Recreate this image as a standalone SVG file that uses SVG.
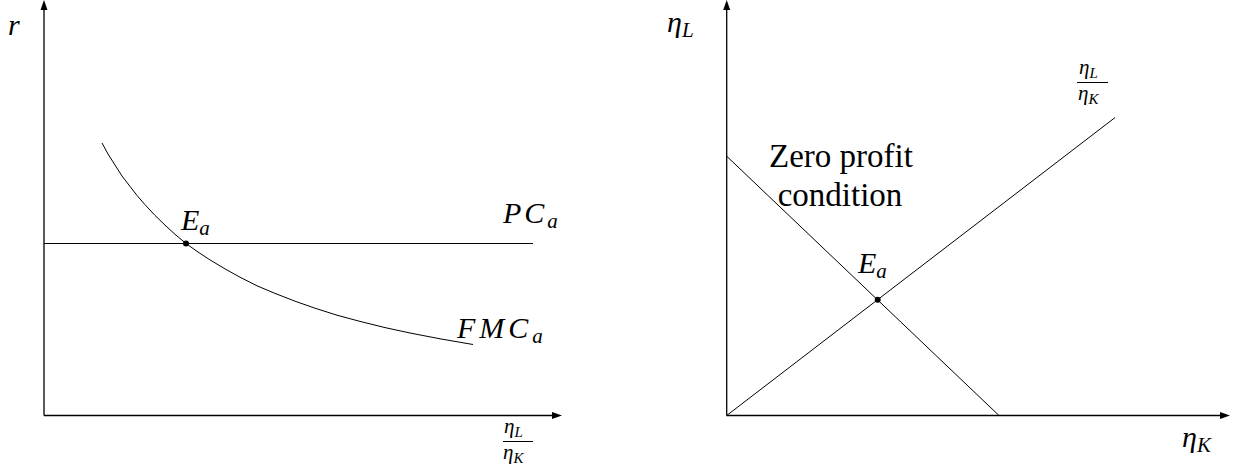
<svg xmlns="http://www.w3.org/2000/svg" width="1239" height="472" viewBox="0 0 1239 472">
<style>
.ax{stroke:#000;stroke-width:1.3;fill:none}
.ln{stroke:#000;stroke-width:1;fill:none;stroke-linejoin:round}
.m{font-style:italic;font-size:30px;fill:#000}
.sub{font-size:21px}
.fr{font-style:italic;font-size:21px;fill:#000}
.fsub{font-size:15px}
.t{font-size:33px;fill:#000}
.ah{fill:#000}
</style>
<rect width="1239" height="472" fill="#fff"/>
<g id="connectors">
  <line class="ax" x1="44" y1="415.5" x2="44" y2="8"/>
  <polygon class="ah" points="44,0 40.5,10 47.5,10"/>
  <line class="ax" x1="44" y1="415.5" x2="554" y2="415.5"/>
  <polygon class="ah" points="562,415.5 552,412 552,419"/>
  <line class="ax" x1="726.7" y1="415.5" x2="726.7" y2="8"/>
  <polygon class="ah" points="726.7,0 723.2,10 730.2,10"/>
  <line class="ax" x1="726.7" y1="415.5" x2="1222" y2="415.5"/>
  <polygon class="ah" points="1230,415.5 1220,412 1220,419"/>
</g>
<g id="pc-line">
  <line class="ln" x1="44" y1="243.5" x2="533" y2="243.5"/>
</g>
<g id="fmc-curve">
  <polyline class="ln" points="102,143 108,154 115,165 122,176 130,186.4 137,195.5 145,204.7 155,215.4 165,225.1 175,234.3 186,243.5 198,252 210,259.9 225,268.9 240,277.2 257,285.8 275,293.4 295,301.2 315,308.2 337,315.2 360,321.4 385,327.6 410,333 440,338.8 473,344.5"/>
</g>
<g id="left-point">
  <circle cx="186" cy="243.5" r="3" fill="#000"/>
</g>
<g id="left-labels" font-family="Liberation Serif, Times New Roman, DejaVu Serif, serif">
  <text class="m" x="8" y="35">r</text>
  <text class="m" x="181" y="230">E<tspan class="sub" dy="5">a</tspan></text>
  <text class="m" x="503" y="223" letter-spacing="3">PC<tspan class="sub" dy="5" letter-spacing="0">a</tspan></text>
  <text class="m" x="457" y="338" letter-spacing="4">FMC<tspan class="sub" dy="5" letter-spacing="0">a</tspan></text>
  <g id="left-xlabel">
    <text class="fr" x="504" y="433">η<tspan class="fsub" dy="4">L</tspan></text>
    <line x1="503" y1="441.5" x2="533" y2="441.5" stroke="#000" stroke-width="1"/>
    <text class="fr" x="503" y="459">η<tspan class="fsub" dy="4">K</tspan></text>
  </g>
</g>
<g id="ray">
  <line class="ln" x1="726.7" y1="415.5" x2="1115" y2="117.6"/>
</g>
<g id="zero-profit">
  <line class="ln" x1="726.7" y1="156.2" x2="999" y2="415.5"/>
</g>
<g id="right-point">
  <circle cx="877.7" cy="299.8" r="3" fill="#000"/>
</g>
<g id="right-labels" font-family="Liberation Serif, Times New Roman, DejaVu Serif, serif">
  <text class="m" x="667" y="32">η<tspan class="sub" dy="5">L</tspan></text>
  <text class="m" x="1182" y="447">η<tspan class="sub" dy="5">K</tspan></text>
  <text class="m" x="858" y="273">E<tspan class="sub" dy="5">a</tspan></text>
  <text class="t" x="841" y="167" text-anchor="middle">Zero profit</text>
  <text class="t" x="840" y="206" text-anchor="middle">condition</text>
  <g id="right-fraction">
    <text class="fr" x="1079" y="74">η<tspan class="fsub" dy="4">L</tspan></text>
    <line x1="1077" y1="82.5" x2="1108" y2="82.5" stroke="#000" stroke-width="1"/>
    <text class="fr" x="1078" y="100">η<tspan class="fsub" dy="4">K</tspan></text>
  </g>
</g>
</svg>
